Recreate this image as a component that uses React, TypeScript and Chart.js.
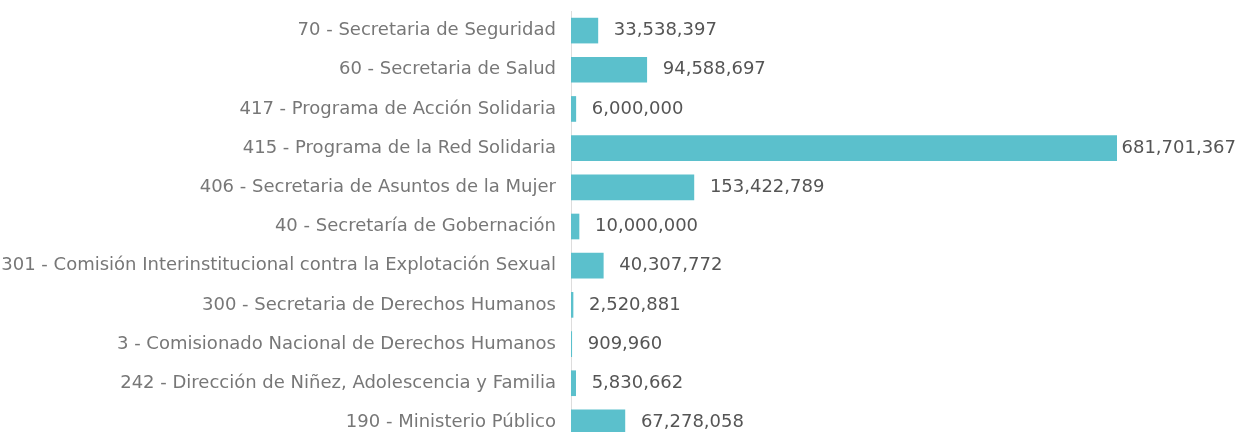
import React, { useEffect, useRef } from "react";
import { Chart, registerables } from "chart.js";

Chart.register(...registerables);

const categories: string[] = [
  "70 - Secretaria de Seguridad",
  "60 - Secretaria de Salud",
  "417 - Programa de Acción Solidaria",
  "415 - Programa de la Red Solidaria",
  "406 - Secretaria de Asuntos de la Mujer",
  "40 - Secretaría de Gobernación",
  "301 - Comisión Interinstitucional contra la Explotación Sexual",
  "300 - Secretaria de Derechos Humanos",
  "3 - Comisionado Nacional de Derechos Humanos",
  "242 - Dirección de Niñez, Adolescencia y Familia",
  "190 - Ministerio Público",
];

const values: number[] = [
  33538397,
  94588697,
  6000000,
  681701367,
  153422789,
  10000000,
  40307772,
  2520881,
  909960,
  5830662,
  67278058,
];

const BAR_COLOR = "#5bc0cc";
const FONT_FAMILY = "'DejaVu Sans', sans-serif";

function formatNumber(n: number): string {
  const s = Math.round(n).toString();
  return s.replace(/\B(?=(\d{3})+(?!\d))/g, ",");
}

export default function App() {
  const ref = useRef<HTMLCanvasElement>(null);

  useEffect(() => {
    if (!ref.current) return;
    const valueLabels = {
      id: "valueLabels",
      afterDatasetsDraw(chart: any) {
        const ctx = chart.ctx;
        const meta = chart.getDatasetMeta(0);
        ctx.save();
        ctx.font = `18px ${FONT_FAMILY}`;
        ctx.fillStyle = "#555555";
        ctx.textBaseline = "middle";
        ctx.textAlign = "left";
        meta.data.forEach((bar: any, i: number) => {
          const text = formatNumber(values[i]);
          const w = ctx.measureText(text).width;
          let x = bar.x + 16;
          if (x + w > chart.width - 6) x = Math.max(bar.x + 2, chart.width - 6 - w);
          ctx.fillText(text, x, bar.y);
        });
        ctx.restore();
      },
    };

    const chart = new Chart(ref.current, {
      type: "bar",
      data: {
        labels: categories,
        datasets: [
          {
            data: values,
            backgroundColor: BAR_COLOR,
            borderWidth: 0,
            barThickness: 25,
          },
        ],
      },
      options: {
        indexAxis: "y",
        animation: false,
        responsive: false,
        layout: { padding: { top: 11, right: 125, bottom: 0, left: 0 } },
        plugins: {
          legend: { display: false },
          tooltip: { enabled: false },
        },
        scales: {
          x: {
            display: false,
            min: 0,
            max: Math.max(...values),
          },
          y: {
            grid: { display: false, drawTicks: false },
            border: { display: true, color: "#dddddd", width: 1 },
            ticks: {
              padding: 15,
              color: "#777777",
              autoSkip: false,
              font: { family: FONT_FAMILY, size: 18 },
            },
            afterFit: (scale: any) => {
              scale.width = 571;
              scale.paddingTop = 0;
              scale.paddingBottom = 0;
            },
          },
        },
      } as any,
      plugins: [valueLabels],
    });
    return () => chart.destroy();
  }, []);

  return (
    <div
      style={{
        position: "fixed",
        left: 0,
        top: 0,
        width: 1242,
        height: 432,
        overflow: "hidden",
        background: "#ffffff",
      }}
    >
      <canvas ref={ref} width={1242} height={442} style={{ display: "block" }} />
    </div>
  );
}
